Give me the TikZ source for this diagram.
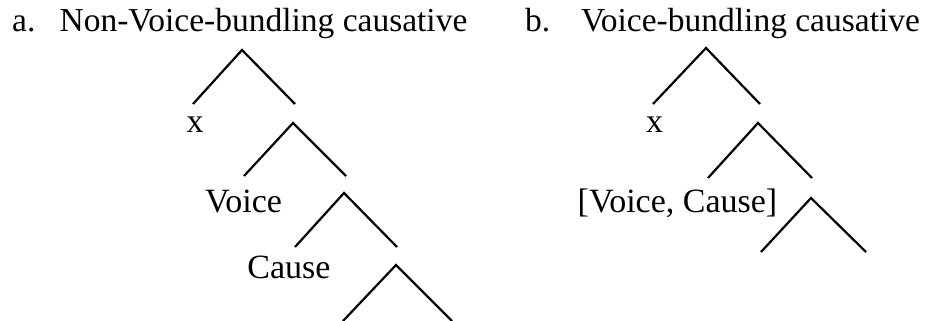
\documentclass[tikz,border=0pt]{standalone}
\usepackage{fontspec}
\setmainfont{Liberation Serif}
\begin{document}
\begin{tikzpicture}[x=1pt,y=-1pt,
  ttl/.style={inner sep=0pt, anchor=base, font=\fontsize{33.5}{40}\selectfont},
  lbl/.style={inner sep=0pt, anchor=base, font=\fontsize{34}{40}\selectfont},
  branch/.style={line width=2.2pt, line cap=butt, line join=miter}]
\useasboundingbox (0,0) rectangle (930,321);
% titles
\node[ttl, anchor=base west] (ta) at (12,32) {a.};
\node[ttl] (tatxt) at (263.5,32) {Non-Voice-bundling causative};
\node[ttl, anchor=base west] (tb) at (525,32) {b.};
\node[ttl] (tbtxt) at (750.5,32) {Voice-bundling causative};
% tree a
\coordinate (a1) at (242,50);  \coordinate (a1l) at (193,104); \coordinate (a1r) at (295,104);
\coordinate (a2) at (293,123); \coordinate (a2l) at (244,176); \coordinate (a2r) at (346,176);
\coordinate (a3) at (344,193); \coordinate (a3l) at (295,247); \coordinate (a3r) at (397,247);
\coordinate (a4) at (396,265); \coordinate (a4l) at (343,321); \coordinate (a4r) at (452,321);
\draw[branch] (a1l) -- (a1) -- (a1r);
\draw[branch] (a2l) -- (a2) -- (a2r);
\draw[branch] (a3l) -- (a3) -- (a3r);
\draw[branch] (a4l) -- (a4) -- (a4r);
\node[lbl] (ax) at (195,132) {x};
\node[lbl] (avoice) at (243.5,212) {Voice};
\node[lbl] (acause) at (289,278) {Cause};
% tree b
\coordinate (b1) at (706,48);  \coordinate (b1l) at (653,104); \coordinate (b1r) at (760,104);
\coordinate (b2) at (758,123); \coordinate (b2l) at (708,178); \coordinate (b2r) at (812,178);
\coordinate (b3) at (811,198); \coordinate (b3l) at (761,252); \coordinate (b3r) at (866,252);
\draw[branch] (b1l) -- (b1) -- (b1r);
\draw[branch] (b2l) -- (b2) -- (b2r);
\draw[branch] (b3l) -- (b3) -- (b3r);
\node[lbl] (bx) at (654.5,132) {x};
\node[lbl] (bvc) at (677.5,212) {[Voice, Cause]};
\end{tikzpicture}
\end{document}
